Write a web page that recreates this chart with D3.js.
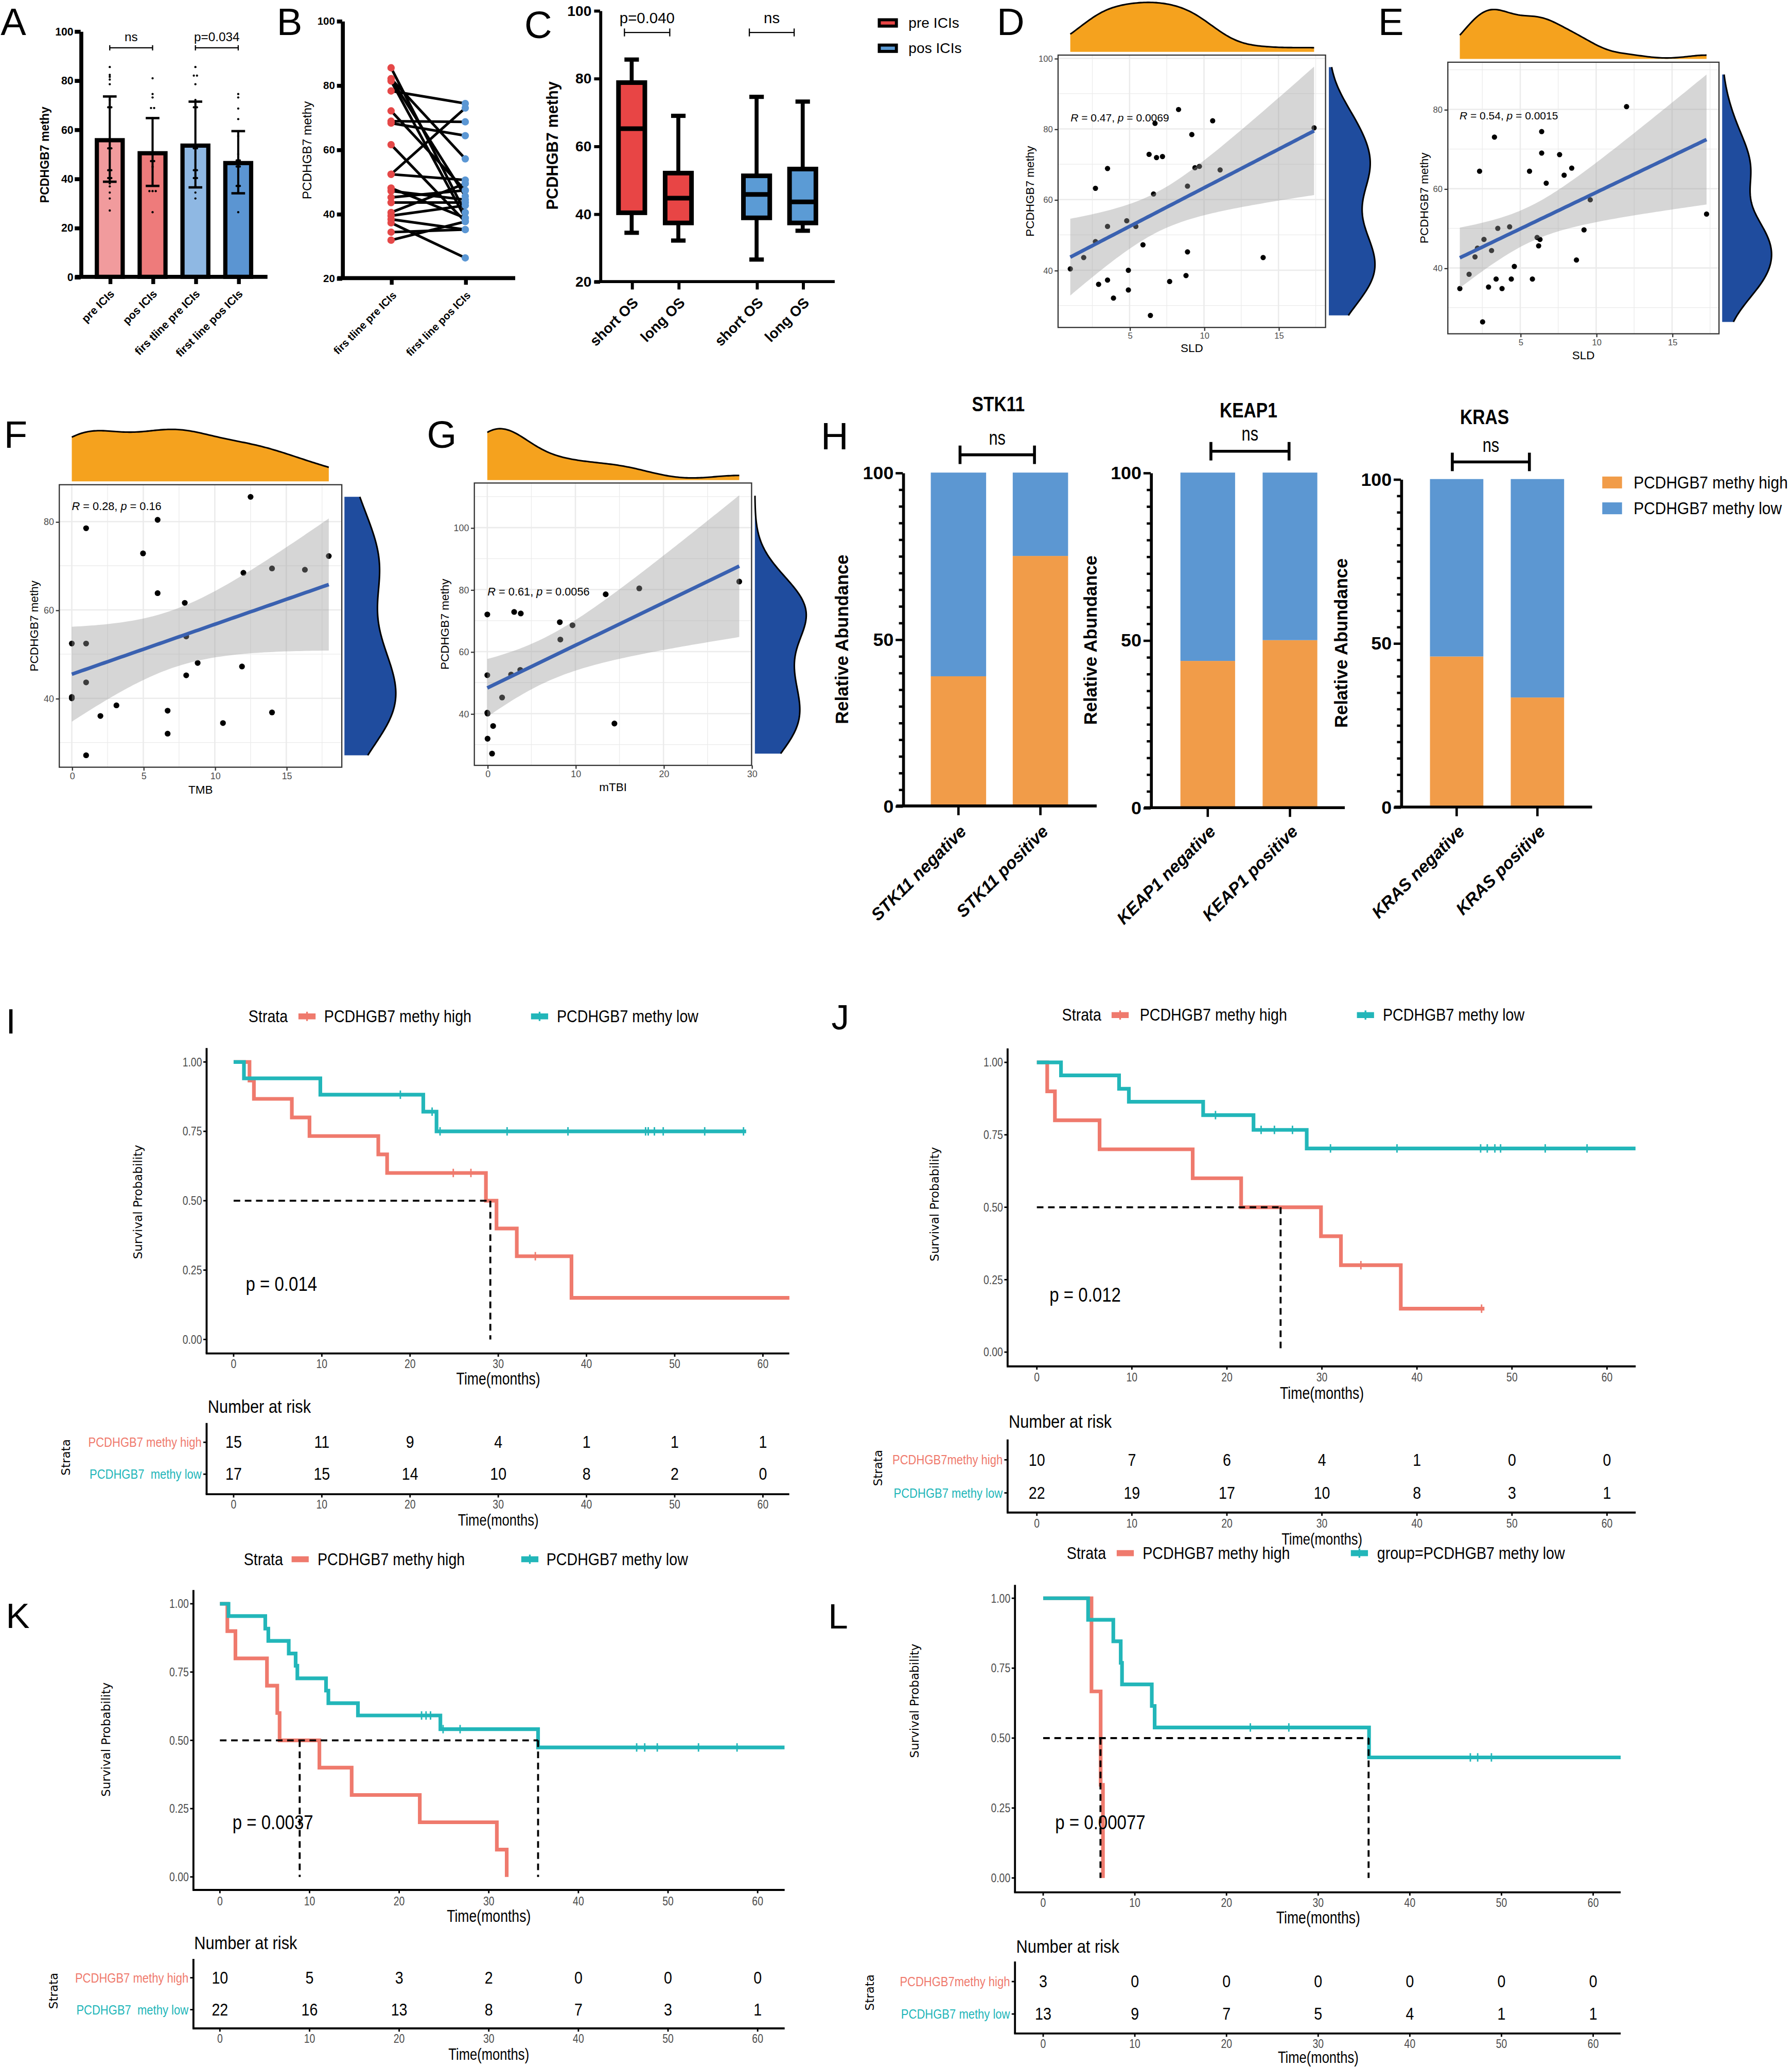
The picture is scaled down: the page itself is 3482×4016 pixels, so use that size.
<!DOCTYPE html>
<html>
<head>
<meta charset="utf-8">
<script src="https://cdn.jsdelivr.net/npm/d3@7"></script>
<style>
html,body{margin:0;padding:0;background:#fff;}
svg{display:block;}
</style>
</head>
<body>
<svg id="fig"></svg>
<script>
// ---------- A : bar chart ----------
const aCats = ['pre ICIs', 'pos ICIs', 'firs tline pre ICIs', 'first line pos ICIs'];
const aMeans = [55.6, 50.3, 53.4, 46.3];
const aErrLow = [38.7, 37, 36.4, 34];
const aErrHigh = [73.4, 64.6, 71.3, 59.3];
const aColors = ['#f19b9d', '#ee7b7b', '#8fb8e3', '#5b95d2'];
const aDots = [
  [85.4, 82.2, 81.4, 80.3, 78.4, 72, 69, 69, 52.3, 52.3, 43.4, 43.4, 40.2, 40.2, 38, 36.8, 34.3, 31.9, 27],
  [80.8, 74.4, 73, 68.7, 68.7, 64.6, 47.1, 47.1, 44.8, 34.9, 34.9, 34.9, 26.3],
  [85.4, 81.9, 81.9, 78.4, 72, 69, 69, 52.3, 52.3, 43.4, 43.4, 40.2, 40.2, 36.8, 34.3, 31.9],
  [74.4, 73, 68.5, 64.2, 57.3, 50, 47.4, 47.4, 44.9, 44.9, 37, 37, 34.6, 26.3]
];
const aTicks = [0, 20, 40, 60, 80, 100];

// ---------- B : paired dots ----------
const bCats = ['firs tline pre ICIs', 'first line pos ICIs'];
const bPre = [85.4, 82, 81.3, 78.2, 72, 68.8, 68.2, 61.5, 52.3, 52.3, 48, 47.1, 45.1, 43.5, 40.4, 39.4, 38.3, 37.2, 34.3, 31.8, 82];
const bPos = [40.4, 57.1, 38.7, 74.3, 47.3, 68.6, 64.3, 37.6, 72.9, 50.5, 38.7, 44.4, 47.3, 43.5, 49.4, 42.6, 35.1, 26.3, 35.1, 37.6, 45.5];
const bTicks = [20, 40, 60, 80, 100];

// ---------- C : box plots ----------
const cCats = ['short OS', 'long OS', 'short OS ', 'long OS '];
const cGroup = ['pre ICIs', 'pre ICIs', 'pos ICIs', 'pos ICIs'];
const cMin = [34.4, 32.1, 26.5, 35];
const cQ1 = [40.3, 37.3, 38.8, 37.3];
const cMed = [65.1, 44.6, 45.7, 43.5];
const cQ3 = [78.7, 52, 51.2, 53.2];
const cMax = [85.5, 68.9, 74.5, 73.1];
const cTicks = [20, 40, 60, 80, 100];

// ---------- D-G : scatter ----------
const dX = [1.02,1.92,2.71,2.71,2.92,3.52,3.52,3.52,3.92,4.81,4.92,4.92,5.42,5.9,6.31,6.4,6.61,6.71,6.81,7.21,7.69,8.29,8.79,8.89,8.89,9.18,9.39,9.69,10.58,11.08,13.97,17.39];
const dY = [40.4,43.6,48.1,63.2,36,68.8,52.4,37.2,32.1,54,40,34.4,52.4,47.2,72.8,27.2,61.6,81.6,71.9,72.2,36.8,85.5,38.5,63.8,45.2,78.4,69,69.4,82.3,68.4,43.6,80.3];
const dStat = ['0.47', '0.0069'];
const eX = [1.02,1.63,2.02,2.18,2.32,2.52,2.61,2.91,3.11,3.3,3.41,3.52,3.8,4.3,4.41,4.61,5.61,5.8,6.11,6.21,6.3,6.41,6.41,6.71,7.59,7.89,8.39,8.7,9.2,9.61,12,17.27];
const eY = [34.8,38.4,42.8,45,64.4,26.4,47.2,35.2,44.4,73,37.2,50,34.8,50.4,37.2,40.4,64.4,37.2,47.7,45.6,47.2,74.4,69,61.4,68.6,63.4,65.2,42,49.6,57.2,80.7,53.6];
const eStat = ['0.54', '0.0015'];
const fX = [0,0,0,1,1,1,1,2,3.12,4.98,6,6,6.7,6.7,7.9,8,8,8.8,10.57,11.9,12,12.5,14,14,16.3,17.97];
const fY = [52.4,40.3,40,78.5,52.4,43.6,27.1,36,38.4,72.8,80.4,63.8,37.2,32,61.6,54,45.2,48,34.4,47.2,68.4,85.6,69.4,36.8,69.1,72.2];
const fStat = ['0.28', '0.16'];
const gX = [0,0,0,0.03,0.03,0.66,0.54,1.68,2.7,3.05,3.74,3.8,8.23,8.29,9.67,13.44,14.43,17.25,28.6];
const gY = [72,52.4,40.3,40,31.9,36,27.1,45.2,52.6,72.8,54.1,72.3,69.5,63.9,68.5,78.5,36.8,80.4,82.6];
const gStat = ['0.61', '0.0056'];

// ---------- H : stacked percent bars ----------
const hGenes = ['STK11', 'KEAP1', 'KRAS'];
const hCats = [['STK11 negative', 'STK11 positive'], ['KEAP1 negative', 'KEAP1 positive'], ['KRAS negative', 'KRAS positive']];
const hHigh = [[38.9, 75], [43.8, 50], [45.9, 33.4]];
const hSeries = ['PCDHGB7 methy high', 'PCDHGB7 methy low'];

// ---------- I-L : Kaplan-Meier ----------
const kmTimes = [0, 10, 20, 30, 40, 50, 60];
const kmYTicks = [0, 0.25, 0.5, 0.75, 1];
const iHigh = {t: [1.8, 2.3, 6.6, 8.6, 16.4, 17.4, 28.6, 29.8, 32.1, 38.3], s: [0.933, 0.867, 0.8, 0.733, 0.667, 0.6, 0.5, 0.4, 0.3, 0.15], c: [24.9, 26.9, 34.2], end: 63};
const iLow = {t: [1.17, 9.83, 21.5, 23.0], s: [0.941, 0.882, 0.821, 0.75], c: [18.9, 22.5, 23.4, 31, 37.9, 46.7, 47, 47.7, 48.7, 53.4, 57.8], end: 58.1};
const iMedian = [29.1];
const iRiskHigh = [15, 11, 9, 4, 1, 1, 1];
const iRiskLow = [17, 15, 14, 10, 8, 2, 0];
const jHigh = {t: [1.09, 1.9, 6.6, 16.4, 21.5, 29.9, 32, 38.3], s: [0.9, 0.8, 0.7, 0.6, 0.5, 0.4, 0.3, 0.15], c: [34.1, 46.8], end: 47.1};
const jLow = {t: [2.54, 8.65, 9.68, 17.5, 22.8, 28.4], s: [0.955, 0.909, 0.864, 0.818, 0.767, 0.703], c: [18.8, 23.6, 25, 26.9, 30.9, 37.9, 46.7, 47.4, 48.2, 48.8, 53.5, 57.9], end: 63};
const jMedian = [25.65];
const jRiskHigh = [10, 7, 6, 4, 1, 0, 0];
const jRiskLow = [22, 19, 17, 10, 8, 3, 1];
const kHigh = {t: [0.83, 1.73, 5.25, 6.4, 6.66, 11.1, 14.7, 22.3, 30.9, 32], s: [0.9, 0.8, 0.7, 0.6, 0.5, 0.4, 0.3, 0.2, 0.1, 0], c: [], end: 32};
const kLow = {t: [0.96, 5.06, 5.4, 7.68, 8.45, 8.64, 11.84, 12.1, 15.4, 24.6, 35.5], s: [0.955, 0.909, 0.864, 0.818, 0.773, 0.727, 0.682, 0.636, 0.591, 0.541, 0.474], c: [22.5, 23, 23.5, 24.9, 26.8, 46.5, 47.4, 48.8, 53.4, 57.7], end: 63};
const kMedian = [8.9, 35.5];
const kRiskHigh = [10, 5, 3, 2, 0, 0, 0];
const kRiskLow = [22, 16, 13, 8, 7, 3, 1];
const lHigh = {t: [5.27, 6.27, 6.52], s: [0.667, 0.333, 0], c: [], end: 6.52};
const lLow = {t: [4.9, 7.65, 8.46, 8.6, 11.85, 12.16, 35.55], s: [0.923, 0.846, 0.769, 0.692, 0.615, 0.538, 0.431], c: [22.6, 26.8, 46.6, 47.4, 48.9], end: 63};
const lMedian = [6.25, 35.5];
const lRiskHigh = [3, 0, 0, 0, 0, 0, 0];
const lRiskLow = [13, 9, 7, 5, 4, 1, 1];

const FONT = "'Liberation Sans', Arial, Helvetica, sans-serif";
const DJ = "'DejaVu Sans', Verdana, sans-serif";
const KM_RED = '#ef7a6d', KM_TEAL = '#22b6b9';

const svg = d3.select('#fig').attr('width', 3482).attr('height', 4016)
  .attr('viewBox', '0 0 1360 1568').attr('preserveAspectRatio', 'none');
svg.append('rect').attr('width', 1360).attr('height', 1568).attr('fill', '#fff');

function T(g, x, y, s, o) {
  o = o || {};
  const t = g.append('text')
    .attr('transform', 'translate(' + x + ',' + y + ') rotate(' + (o.rot || 0) + ') scale(' + (o.sx || 1) + ',1)')
    .attr('font-family', o.ff || FONT)
    .attr('font-size', o.size || 10)
    .attr('font-weight', o.bold ? 'bold' : 'normal')
    .attr('font-style', o.italic ? 'italic' : 'normal')
    .attr('text-anchor', o.anchor || 'start')
    .attr('dominant-baseline', o.base || 'central')
    .attr('fill', o.fill || '#000')
    .style('white-space', 'pre');
  if (s !== null) t.text(s);
  return t;
}
function ln(g, x1, y1, x2, y2, w, col) {
  return g.append('line').attr('x1', x1).attr('y1', y1).attr('x2', x2).attr('y2', y2)
    .attr('stroke', col || '#000').attr('stroke-width', w);
}

// panel letters
[['A', 0.5, 26.6, 29], ['B', 210, 26.6, 29], ['C', 398, 28.9, 29], ['D', 756.6, 26.6, 29], ['E', 1046, 26.6, 29],
 ['F', 3, 339.8, 29], ['G', 324, 339.8, 29], ['H', 623, 341, 29], ['I', 4.5, 783.9, 27], ['J', 631, 781, 27],
 ['K', 4.5, 1235, 27], ['L', 628.5, 1235.3, 27]].forEach(p => T(svg, p[1], p[2], p[0], {size: p[3], base: 'alphabetic'}));

// ================= A =================
(function () {
  const g = svg.append('g');
  const x = d3.scalePoint().domain(aCats).range([83.3, 180.8]);
  const y = d3.scaleLinear().domain([0, 100]).range([210, 23.6]);
  g.selectAll('rect.bar').data(aCats).join('rect').attr('class', 'bar')
    .attr('x', d => x(d) - 9.8).attr('width', 19.6)
    .attr('y', (d, i) => y(aMeans[i])).attr('height', (d, i) => y(0) - y(aMeans[i]))
    .attr('fill', (d, i) => aColors[i]).attr('stroke', '#000').attr('stroke-width', 3.2);
  aDots.forEach((vals, i) => {
    vals.forEach((v, k) => {
      const same = vals.filter(w => w === v).length;
      const idx = vals.slice(0, k).filter(w => w === v).length;
      g.append('circle').attr('cx', x(aCats[i]) + (idx - (same - 1) / 2) * 2.4).attr('cy', y(v)).attr('r', 0.85).attr('fill', '#000');
    });
  });
  aCats.forEach((c, i) => {
    const cx = x(c);
    ln(g, cx, y(aErrLow[i]), cx, y(aErrHigh[i]), 1.6);
    [aErrLow[i], aErrHigh[i]].forEach(v => ln(g, cx - 5.2, y(v), cx + 5.2, y(v), 1.8));
  });
  const ya = g.append('g').attr('transform', 'translate(61.2,0)')
    .call(d3.axisLeft(y).tickValues(aTicks).tickSize(4.5).tickSizeOuter(0));
  ya.select('.domain').attr('stroke-width', 3);
  ya.selectAll('line').attr('stroke-width', 3);
  ya.selectAll('text').attr('font-family', FONT).attr('font-weight', 'bold').attr('font-size', 8.3).attr('x', -5.5);
  ln(g, 57, y(0), 203, y(0), 3);
  const xa = g.append('g').attr('transform', 'translate(0,' + y(0) + ')')
    .call(d3.axisBottom(x).tickSize(5.5).tickFormat(''));
  xa.select('.domain').remove();
  xa.selectAll('line').attr('stroke-width', 2.9);
  aCats.forEach(c => T(g, x(c) + 2, 221.5, c, {rot: -45, anchor: 'end', bold: true, size: 8.4}));
  T(g, 33.9, 117.4, 'PCDHGB7 methy', {rot: -90, anchor: 'middle', bold: true, size: 9});
  [[0, 1, 'ns'], [2, 3, 'p=0.034']].forEach(s => {
    const x1 = x(aCats[s[0]]), x2 = x(aCats[s[1]]), yy = y(93.2);
    ln(g, x1, yy, x2, yy, 0.9);
    ln(g, x1, yy - 2, x1, yy + 2, 0.9); ln(g, x2, yy - 2, x2, yy + 2, 0.9);
    T(g, (x1 + x2) / 2, yy - 8.3, s[2], {anchor: 'middle', size: 9.5});
  });
})();

// ================= B =================
(function () {
  const g = svg.append('g');
  const x = d3.scalePoint().domain(bCats).range([296.8, 353.1]);
  const y = d3.scaleLinear().domain([20, 100]).range([211, 15.8]);
  bPre.forEach((v, i) => ln(g, x(bCats[0]), y(v), x(bCats[1]), y(bPos[i]), 2));
  g.selectAll('circle.pre').data(bPre).join('circle').attr('class', 'pre')
    .attr('cx', x(bCats[0])).attr('cy', d => y(d)).attr('r', 2.8).attr('fill', '#e54848');
  g.selectAll('circle.pos').data(bPos).join('circle').attr('class', 'pos')
    .attr('cx', x(bCats[1])).attr('cy', d => y(d)).attr('r', 2.8).attr('fill', '#5b97d4');
  const ya = g.append('g').attr('transform', 'translate(259.7,0)')
    .call(d3.axisLeft(y).tickValues(bTicks).tickSize(4).tickSizeOuter(0));
  ya.select('.domain').attr('stroke-width', 3);
  ya.selectAll('line').attr('stroke-width', 3);
  ya.selectAll('text').attr('font-family', FONT).attr('font-weight', 'bold').attr('font-size', 8).attr('x', -5.5);
  ln(g, 256, y(20), 391, y(20), 3);
  const xa = g.append('g').attr('transform', 'translate(0,' + y(20) + ')')
    .call(d3.axisBottom(x).tickSize(5).tickFormat(''));
  xa.select('.domain').remove();
  xa.selectAll('line').attr('stroke-width', 2.9);
  bCats.forEach(c => T(g, x(c) + 2.5, 222.5, c, {rot: -45, anchor: 'end', bold: true, size: 8.1}));
  T(g, 233, 114, 'PCDHGB7 methy', {rot: -90, anchor: 'middle', size: 9.5});
})();

// ================= C =================
(function () {
  const g = svg.append('g');
  const x = d3.scaleOrdinal().domain(cCats).range([479.4, 514.8, 574.2, 609.2]);
  const y = d3.scaleLinear().domain([20, 100]).range([213.6, 7.9]);
  const col = {'pre ICIs': '#e84545', 'pos ICIs': '#5b9bd5'};
  cCats.forEach((c, i) => {
    const cx = x(c);
    ln(g, cx, y(cMax[i]), cx, y(cQ3[i]), 3);
    ln(g, cx, y(cMin[i]), cx, y(cQ1[i]), 3);
    ln(g, cx - 5.5, y(cMax[i]), cx + 5.5, y(cMax[i]), 3.2);
    ln(g, cx - 5.5, y(cMin[i]), cx + 5.5, y(cMin[i]), 3.2);
    g.append('rect').attr('x', cx - 10).attr('width', 20).attr('y', y(cQ3[i])).attr('height', y(cQ1[i]) - y(cQ3[i]))
      .attr('fill', col[cGroup[i]]).attr('stroke', '#000').attr('stroke-width', 3.5);
    ln(g, cx - 10, y(cMed[i]), cx + 10, y(cMed[i]), 3.5);
  });
  const ya = g.append('g').attr('transform', 'translate(455.4,0)')
    .call(d3.axisLeft(y).tickValues(cTicks).tickSize(4.5).tickSizeOuter(0));
  ya.select('.domain').attr('stroke-width', 2.3);
  ya.selectAll('line').attr('stroke-width', 2.3);
  ya.selectAll('text').attr('font-family', FONT).attr('font-weight', 'bold').attr('font-size', 11).attr('x', -6.5);
  ln(g, 451, y(20), 633.5, y(20), 2.3);
  const xa = g.append('g').attr('transform', 'translate(0,' + y(20) + ')')
    .call(d3.axisBottom(x).tickSize(6).tickFormat(''));
  xa.select('.domain').remove();
  xa.selectAll('line').attr('stroke-width', 2.3);
  cCats.forEach(c => T(g, x(c) + 3, 227.7, c.trim(), {rot: -45, anchor: 'end', bold: true, size: 11}));
  T(g, 419.4, 110.4, 'PCDHGB7 methy', {rot: -90, anchor: 'middle', bold: true, size: 12});
  [[0, 1, 'p=0.040'], [2, 3, 'ns']].forEach(s => {
    const x1 = x(cCats[s[0]]) - 5.5, x2 = x(cCats[s[1]]) - 6.5, yy = y(93.5);
    ln(g, x1, yy, x2, yy, 0.9);
    ln(g, x1, yy - 3, x1, yy + 3, 0.9); ln(g, x2, yy - 3, x2, yy + 3, 0.9);
    T(g, (x1 + x2) / 2, yy - 11, s[2], {anchor: 'middle', size: 11.5});
  });
  ['pre ICIs', 'pos ICIs'].forEach((k, i) => {
    const yy = 17.4 + i * 19.2;
    g.append('rect').attr('x', 667.3).attr('y', yy - 2.4).attr('width', 13).attr('height', 4.8)
      .attr('fill', col[k]).attr('stroke', '#000').attr('stroke-width', 2.3);
    T(g, 689.5, yy, k, {size: 11});
  });
})();

// ================= D-G scatter =================
function tq975(df) {
  const z = 1.959964;
  return z + (z ** 3 + z) / (4 * df) + (5 * z ** 5 + 16 * z ** 3 + 3 * z) / (96 * df * df);
}
function fitLm(xs, ys) {
  const n = xs.length, mx = d3.mean(xs), my = d3.mean(ys);
  let sxx = 0, sxy = 0;
  xs.forEach((v, i) => { sxx += (v - mx) ** 2; sxy += (v - mx) * (ys[i] - my); });
  const b = sxy / sxx, a = my - b * mx;
  const s = Math.sqrt(d3.sum(xs, (v, i) => (ys[i] - a - b * v) ** 2) / (n - 2));
  const t = tq975(n - 2);
  const ex = d3.extent(xs);
  return d3.range(80).map(i => {
    const xv = ex[0] + (ex[1] - ex[0]) * i / 79, f = a + b * xv;
    const se = s * Math.sqrt(1 / n + (xv - mx) ** 2 / sxx);
    return {x: xv, f: f, l: f - t * se, u: f + t * se};
  });
}
// gaussian kernel density (bw.nrd0) evaluated on [lo, hi]
function kde(vals, lo, hi) {
  const sorted = vals.slice().sort(d3.ascending);
  const iqr = d3.quantileSorted(sorted, 0.75) - d3.quantileSorted(sorted, 0.25);
  const bw = 0.9 * Math.min(d3.deviation(vals), iqr / 1.34) * Math.pow(vals.length, -0.2);
  return d3.range(140).map(i => {
    const xv = lo + (hi - lo) * i / 139;
    return [xv, d3.mean(vals, v => Math.exp(-0.5 * ((xv - v) / bw) ** 2)) / (bw * Math.sqrt(2 * Math.PI))];
  });
}
function scatter(cfg, xs, ys, stat) {
  const g = svg.append('g');
  const x = d3.scaleLinear().domain(cfg.xDom).range([cfg.l, cfg.r]);
  const y = d3.scaleLinear().domain(cfg.yDom).range([cfg.b, cfg.t]);
  const cid = 'clip' + cfg.name;
  svg.append('clipPath').attr('id', cid).append('rect')
    .attr('x', cfg.l).attr('y', cfg.t).attr('width', cfg.r - cfg.l).attr('height', cfg.b - cfg.t);
  const pg = g.append('g').attr('clip-path', 'url(#' + cid + ')');
  cfg.xMinor.forEach(v => ln(pg, x(v), cfg.t, x(v), cfg.b, 0.5, '#ebebeb'));
  cfg.yMinor.forEach(v => ln(pg, cfg.l, y(v), cfg.r, y(v), 0.5, '#ebebeb'));
  cfg.xTicks.forEach(v => ln(pg, x(v), cfg.t, x(v), cfg.b, 1, '#ebebeb'));
  cfg.yTicks.forEach(v => ln(pg, cfg.l, y(v), cfg.r, y(v), 1, '#ebebeb'));
  pg.selectAll('circle').data(xs).join('circle')
    .attr('cx', d => x(d)).attr('cy', (d, i) => y(ys[i])).attr('r', cfg.pr).attr('fill', '#000');
  const fit = fitLm(xs, ys);
  pg.append('path').attr('d', d3.area().x(d => x(d.x)).y0(d => y(d.l)).y1(d => y(d.u))(fit))
    .attr('fill', '#999').attr('fill-opacity', 0.4);
  pg.append('path').attr('d', d3.line().x(d => x(d.x)).y(d => y(d.f))(fit))
    .attr('fill', 'none').attr('stroke', '#3a61b0').attr('stroke-width', 2.7);
  g.append('rect').attr('x', cfg.l).attr('y', cfg.t).attr('width', cfg.r - cfg.l).attr('height', cfg.b - cfg.t)
    .attr('fill', 'none').attr('stroke', '#333').attr('stroke-width', 0.9);
  const xa = g.append('g').attr('transform', 'translate(0,' + cfg.b + ')')
    .call(d3.axisBottom(x).tickValues(cfg.xTicks).tickSize(2.6).tickSizeOuter(0));
  xa.select('.domain').remove();
  xa.selectAll('line').attr('stroke', '#333').attr('stroke-width', 0.9);
  xa.selectAll('text').attr('font-family', FONT).attr('font-size', cfg.fs).attr('fill', '#4d4d4d').attr('y', 4);
  const ya = g.append('g').attr('transform', 'translate(' + cfg.l + ',0)')
    .call(d3.axisLeft(y).tickValues(cfg.yTicks).tickSize(2.6).tickSizeOuter(0));
  ya.select('.domain').remove();
  ya.selectAll('line').attr('stroke', '#333').attr('stroke-width', 0.9);
  ya.selectAll('text').attr('font-family', FONT).attr('font-size', cfg.fs).attr('fill', '#4d4d4d').attr('x', -4);
  T(g, (cfg.l + cfg.r) / 2, cfg.xTitleY, cfg.xTitle, {anchor: 'middle', size: 8.8});
  T(g, cfg.yTitleX, (cfg.t + cfg.b) / 2, 'PCDHGB7 methy', {rot: -90, anchor: 'middle', size: 8.8});
  const lt = T(g, cfg.labX, cfg.labY, null, {size: cfg.ls});
  lt.append('tspan').attr('font-style', 'italic').text('R');
  lt.append('tspan').text(' = ' + stat[0] + ', ');
  lt.append('tspan').attr('font-style', 'italic').text('p');
  lt.append('tspan').text(' = ' + stat[1]);
  // top marginal density (over the x data range, on the main x scale)
  const xe = d3.extent(xs);
  const dx = kde(xs, xe[0], xe[1]), hmax = d3.max(dx, d => d[1]);
  const hs = d3.scaleLinear().domain([0, hmax]).range([0, cfg.topH]);
  g.append('path').attr('d', d3.area().x(d => x(d[0])).y0(cfg.topBase).y1(d => cfg.topBase - hs(d[1]))(dx))
    .attr('fill', '#f5a21e');
  g.append('path').attr('d', d3.line().x(d => x(d[0])).y(d => cfg.topBase - hs(d[1]))(dx))
    .attr('fill', 'none').attr('stroke', '#000').attr('stroke-width', 1.2);
  // right marginal density (on the main y scale, from data min to the marginal's upper limit)
  const dy = kde(ys, d3.min(ys), cfg.rdTopVal), wmax = d3.max(dy, d => d[1]);
  const ws = d3.scaleLinear().domain([0, wmax]).range([0, cfg.rdW]);
  g.append('path').attr('d', d3.area().y(d => y(d[0])).x0(cfg.rdBase).x1(d => cfg.rdBase + ws(d[1]))(dy))
    .attr('fill', '#1f4c9e');
  g.append('path').attr('d', d3.line().x(d => cfg.rdBase + ws(d[1])).y(d => y(d[0]))(dy))
    .attr('fill', 'none').attr('stroke', '#000').attr('stroke-width', 1.2);
}
scatter({name: 'D', l: 803, r: 1006, t: 41.8, b: 248.4, xDom: [0.2, 18.16], yDom: [23.8, 100.9], xTicks: [5, 10, 15], yTicks: [40, 60, 80, 100],
  xMinor: [2.5, 7.5, 12.5, 17.5], yMinor: [30, 50, 70, 90], labX: 812.5, labY: 89, xTitle: 'SLD', xTitleY: 264, yTitleX: 781.6,
  topBase: 39.3, topH: 37.5, rdBase: 1008.5, rdW: 35, rdTopVal: 97.5, pr: 2.0, fs: 6.5, ls: 8.2}, dX, dY, dStat);
scatter({name: 'E', l: 1098.8, r: 1304.6, t: 47.2, b: 253.2, xDom: [0.23, 18.09], yDom: [23.4, 91.9], xTicks: [5, 10, 15], yTicks: [40, 60, 80],
  xMinor: [2.5, 7.5, 12.5, 17.5], yMinor: [30, 50, 70, 90], labX: 1107.7, labY: 87.4, xTitle: 'SLD', xTitleY: 269.5, yTitleX: 1081,
  topBase: 44.7, topH: 37.5, rdBase: 1307, rdW: 37.5, rdTopVal: 88.8, pr: 2.0, fs: 6.5, ls: 8.2}, eX, eY, eStat);
scatter({name: 'F', l: 45, r: 259.4, t: 367.7, b: 582, xDom: [-0.875, 18.88], yDom: [24.4, 88.35], xTicks: [0, 5, 10, 15], yTicks: [40, 60, 80],
  xMinor: [2.5, 7.5, 12.5, 17.5], yMinor: [30, 50, 70], labX: 54.5, labY: 383.7, xTitle: 'TMB', xTitleY: 599, yTitleX: 26,
  topBase: 365.2, topH: 39.5, rdBase: 261.4, rdW: 39, rdTopVal: 85.6, pr: 2.2, fs: 7, ls: 8.5}, fX, fY, fStat);
scatter({name: 'G', l: 360, r: 570.4, t: 366.4, b: 580.6, xDom: [-1.47, 30], yDom: [23.3, 114.4], xTicks: [0, 10, 20, 30], yTicks: [40, 60, 80, 100],
  xMinor: [5, 15, 25], yMinor: [30, 50, 70, 90, 110], labX: 370, labY: 448.6, xTitle: 'mTBI', xTitleY: 597, yTitleX: 337.5,
  topBase: 364.2, topH: 39, rdBase: 572.9, rdW: 39, rdTopVal: 110.3, pr: 2.2, fs: 7, ls: 8.5}, gX, gY, gStat);

// ================= H =================
(function () {
  const lay = [
    {ax: 685.2, y100: 358.5, y0: 611.4, xEnd: 832.3, c: [727.4, 789.6], w: 42, titleX: 757.7, titleY: 306.6, br: [728.6, 785.1], brY: 345, nsY: 332.3, ylabX: 639.1},
    {ax: 873.3, y100: 358.5, y0: 612.7, xEnd: 1020.6, c: [916.6, 979], w: 41.5, titleX: 947.5, titleY: 311.2, br: [919, 978.3], brY: 342.3, nsY: 329, ylabX: 827.6},
    {ax: 1063.2, y100: 363.4, y0: 612.2, xEnd: 1208.3, c: [1105.5, 1166.8], w: 40.5, titleX: 1126.7, titleY: 316, br: [1102.2, 1160.7], brY: 350.4, nsY: 337.5, ylabX: 1018}
  ];
  const colH = '#f19c49', colL = '#5c97d2';
  const g = svg.append('g');
  hGenes.forEach((gene, k) => {
    const L = lay[k];
    const x = d3.scalePoint().domain(hCats[k]).range(L.c);
    const y = d3.scaleLinear().domain([0, 100]).range([L.y0, L.y100]);
    hCats[k].forEach((c, i) => {
      const v = hHigh[k][i];
      g.append('rect').attr('x', x(c) - L.w / 2).attr('width', L.w).attr('y', y(v)).attr('height', y(0) - y(v)).attr('fill', colH);
      g.append('rect').attr('x', x(c) - L.w / 2).attr('width', L.w).attr('y', y(100)).attr('height', y(v) - y(100)).attr('fill', colL);
    });
    const ya = g.append('g').attr('transform', 'translate(' + L.ax + ',0)')
      .call(d3.axisLeft(y).tickValues(d3.range(0, 101, 5)).tickSize(3).tickSizeOuter(0)
        .tickFormat(d => (d % 50 === 0 ? d : '')));
    ya.select('.domain').attr('stroke-width', 2.2);
    ya.selectAll('line').attr('stroke-width', 1.8);
    ya.selectAll('.tick').filter(d => d % 50 === 0).select('line').attr('x2', -5.5);
    ya.selectAll('text').attr('font-family', FONT).attr('font-weight', 'bold').attr('font-size', 14).attr('x', -7);
    ln(g, L.ax - 5, y(0), L.xEnd, y(0), 2.2);
    hCats[k].forEach(c => {
      ln(g, x(c), y(0), x(c), y(0) + 7, 1.8);
      T(g, x(c) + 3.6, 628.4, c, {rot: -45, anchor: 'end', bold: true, italic: true, size: 13});
    });
    T(g, L.titleX, L.titleY, gene, {anchor: 'middle', bold: true, size: 16, sx: 0.82});
    ln(g, L.br[0], L.brY, L.br[1], L.brY, 2.2);
    ln(g, L.br[0], L.brY - 7, L.br[0], L.brY + 7, 2.2);
    ln(g, L.br[1], L.brY - 7, L.br[1], L.brY + 7, 2.2);
    T(g, (L.br[0] + L.br[1]) / 2, L.nsY, 'ns', {anchor: 'middle', size: 15, sx: 0.8});
    T(g, L.ylabX, (L.y0 + L.y100) / 2, 'Relative Abundance', {rot: -90, anchor: 'middle', bold: true, size: 13.5});
  });
  hSeries.forEach((s, i) => {
    const yy = 366 + i * 19.6;
    g.append('rect').attr('x', 1216).attr('y', yy - 4.5).attr('width', 15).attr('height', 9).attr('fill', i === 0 ? colH : colL);
    T(g, 1239.8, yy, s, {size: 13, sx: 0.9});
  });
})();

// ================= I-L Kaplan-Meier =================
const kmL = {
  I: {yAxisX: 156.8, x0: 177.3, x60: 579, yTop: 805.6, yBot: 1016.1, xAxisY: 1026.7, xEnd: 599, axisTop: 795, legY: 771, strataX: 188.6, sw: [226.5, 403], tx: [246, 422.6], tick: [true, true], pX: 186.5, pY: 974, survX: 104.6, survY: 911.8, xtickY: 1034.7, timeY: 1045.8, rtX: 157.7, rtY: 1067, rows: [1094.1, 1118.3], tblTop: 1079.5, tblAxisY: 1133.5, tblTickY: 1141, tblTimeY: 1152.8, strX: 50, strY: 1105.5},
  J: {yAxisX: 764.7, x0: 786.9, x60: 1219.6, yTop: 805.9, yBot: 1025.7, xAxisY: 1036.5, xEnd: 1241.4, axisTop: 795.3, legY: 770, strataX: 806, sw: [843.6, 1029.8], tx: [865, 1049.5], tick: [true, true], pX: 796.5, pY: 982.4, survX: 709.3, survY: 913.5, xtickY: 1044.6, timeY: 1056.8, rtX: 765.5, rtY: 1078.4, rows: [1107.4, 1132.5], tblTop: 1092, tblAxisY: 1147.4, tblTickY: 1155.5, tblTimeY: 1167.2, strX: 666.5, strY: 1113.6},
  K: {yAxisX: 146.8, x0: 166.9, x60: 575, yTop: 1216.6, yBot: 1423.8, xAxisY: 1433.7, xEnd: 595.5, axisTop: 1206.2, legY: 1182.8, strataX: 185, sw: [221.3, 395.6], tx: [241, 414.7], tick: [false, true], pX: 176.4, pY: 1382.6, survX: 80.6, survY: 1319.6, xtickY: 1442, timeY: 1453.2, rtX: 147.3, rtY: 1473.9, rows: [1500.3, 1524.5], tblTop: 1486, tblAxisY: 1538.7, tblTickY: 1546.5, tblTimeY: 1558.2, strX: 40.5, strY: 1510.2},
  L: {yAxisX: 770.3, x0: 791.7, x60: 1209.1, yTop: 1212.4, yBot: 1424.6, xAxisY: 1435.5, xEnd: 1230, axisTop: 1202.3, legY: 1178.2, strataX: 809.6, sw: [847.5, 1025.2], tx: [867.2, 1045.1], tick: [false, true], pX: 800.8, pY: 1382.6, survX: 694, survY: 1290.2, xtickY: 1443.2, timeY: 1454.4, rtX: 771.2, rtY: 1476.5, rows: [1503.2, 1527.8], tblTop: 1488, tblAxisY: 1542.6, tblTickY: 1550.2, tblTimeY: 1560.6, strX: 660, strY: 1511.5}
};
function drawKM(Lc, curves, medians, pText, legText, rowLabels, risk) {
  const g = svg.append('g');
  const cols = [KM_RED, KM_TEAL];
  const x = d3.scaleLinear().domain([0, 60]).range([Lc.x0, Lc.x60]);
  const y = d3.scaleLinear().domain([0, 1]).range([Lc.yBot, Lc.yTop]);
  const line = d3.line().x(d => x(d[0])).y(d => y(d[1])).curve(d3.curveStepAfter);
  curves.forEach((c, ci) => {
    const pts = [[0, 1]].concat(c.t.map((t, i) => [t, c.s[i]]));
    pts.push([c.end, c.s[c.s.length - 1]]);
    g.append('path').attr('d', line(pts)).attr('fill', 'none').attr('stroke', cols[ci]).attr('stroke-width', 2.8);
    c.c.forEach(t => {
      let s = 1;
      c.t.forEach((tt, i) => { if (tt <= t) s = c.s[i]; });
      ln(g, x(t), y(s) - 3.2, x(t), y(s) + 3.2, 1.1, cols[ci]);
    });
  });
  const mMax = d3.max(medians);
  ln(g, x(0), y(0.5), x(mMax), y(0.5), 1.5).attr('stroke-dasharray', '5,3.5');
  medians.forEach(m => ln(g, x(m), y(0.5), x(m), y(0), 1.5).attr('stroke-dasharray', '5,3.5'));
  // axes
  ln(g, Lc.yAxisX, Lc.axisTop, Lc.yAxisX, Lc.xAxisY, 1.5);
  ln(g, Lc.yAxisX - 0.7, Lc.xAxisY, Lc.xEnd, Lc.xAxisY, 1.5);
  kmYTicks.forEach(v => {
    ln(g, Lc.yAxisX - 2.5, y(v), Lc.yAxisX, y(v), 1.1);
    T(g, Lc.yAxisX - 3.5, y(v), d3.format('.2f')(v), {anchor: 'end', size: 9.5, sx: 0.8, fill: '#4d4d4d'});
  });
  kmTimes.forEach(v => {
    ln(g, x(v), Lc.xAxisY, x(v), Lc.xAxisY + 2.5, 1.1);
    T(g, x(v), Lc.xtickY, String(v), {anchor: 'middle', size: 9.5, sx: 0.8, fill: '#4d4d4d'});
  });
  T(g, (Lc.x0 + Lc.x60) / 2, Lc.timeY, 'Time(months)', {anchor: 'middle', size: 13, sx: 0.8});
  T(g, Lc.survX, Lc.survY, 'Survival Probability', {rot: -90, anchor: 'middle', size: 9, ff: DJ});
  T(g, Lc.pX, Lc.pY, pText, {size: 15, sx: 0.86});
  // legend
  T(g, Lc.strataX, Lc.legY, 'Strata', {size: 13, sx: 0.86});
  [0, 1].forEach(i => {
    ln(g, Lc.sw[i], Lc.legY, Lc.sw[i] + 13, Lc.legY, 4.5, cols[i]);
    if (Lc.tick[i]) ln(g, Lc.sw[i] + 6.5, Lc.legY - 3.5, Lc.sw[i] + 6.5, Lc.legY + 3.5, 1.3, cols[i]);
    T(g, Lc.tx[i], Lc.legY, legText[i], {size: 13, sx: 0.86});
  });
  // risk table
  T(g, Lc.rtX, Lc.rtY, 'Number at risk', {size: 14, sx: 0.86});
  ln(g, Lc.yAxisX, Lc.tblTop, Lc.yAxisX, Lc.tblAxisY, 1.5);
  ln(g, Lc.yAxisX - 0.7, Lc.tblAxisY, Lc.xEnd, Lc.tblAxisY, 1.5);
  [0, 1].forEach(i => {
    ln(g, Lc.yAxisX - 2.5, Lc.rows[i], Lc.yAxisX, Lc.rows[i], 1.1);
    T(g, Lc.yAxisX - 3.8, Lc.rows[i], rowLabels[i], {anchor: 'end', size: 10, sx: 0.86, fill: cols[i]});
    risk[i].forEach((n, k) => T(g, x(kmTimes[k]), Lc.rows[i], String(n), {anchor: 'middle', size: 13, sx: 0.86}));
  });
  kmTimes.forEach(v => {
    ln(g, x(v), Lc.tblAxisY, x(v), Lc.tblAxisY + 2.5, 1.1);
    T(g, x(v), Lc.tblTickY, String(v), {anchor: 'middle', size: 9.5, sx: 0.8, fill: '#4d4d4d'});
  });
  T(g, (Lc.x0 + Lc.x60) / 2, Lc.tblTimeY, 'Time(months)', {anchor: 'middle', size: 12.5, sx: 0.8});
  T(g, Lc.strX, Lc.strY, 'Strata', {rot: -90, anchor: 'middle', size: 9, ff: DJ});
}
drawKM(kmL.I, [iHigh, iLow], iMedian, 'p = 0.014', ['PCDHGB7 methy high', 'PCDHGB7 methy low'],
  ['PCDHGB7 methy high', 'PCDHGB7  methy low'], [iRiskHigh, iRiskLow]);
drawKM(kmL.J, [jHigh, jLow], jMedian, 'p = 0.012', ['PCDHGB7 methy high', 'PCDHGB7 methy low'],
  ['PCDHGB7methy high', 'PCDHGB7 methy low'], [jRiskHigh, jRiskLow]);
drawKM(kmL.K, [kHigh, kLow], kMedian, 'p = 0.0037', ['PCDHGB7 methy high', 'PCDHGB7 methy low'],
  ['PCDHGB7 methy high', 'PCDHGB7  methy low'], [kRiskHigh, kRiskLow]);
drawKM(kmL.L, [lHigh, lLow], lMedian, 'p = 0.00077', ['PCDHGB7 methy high', 'group=PCDHGB7 methy low'],
  ['PCDHGB7methy high', 'PCDHGB7 methy low'], [lRiskHigh, lRiskLow]);
</script>
</body>
</html>
